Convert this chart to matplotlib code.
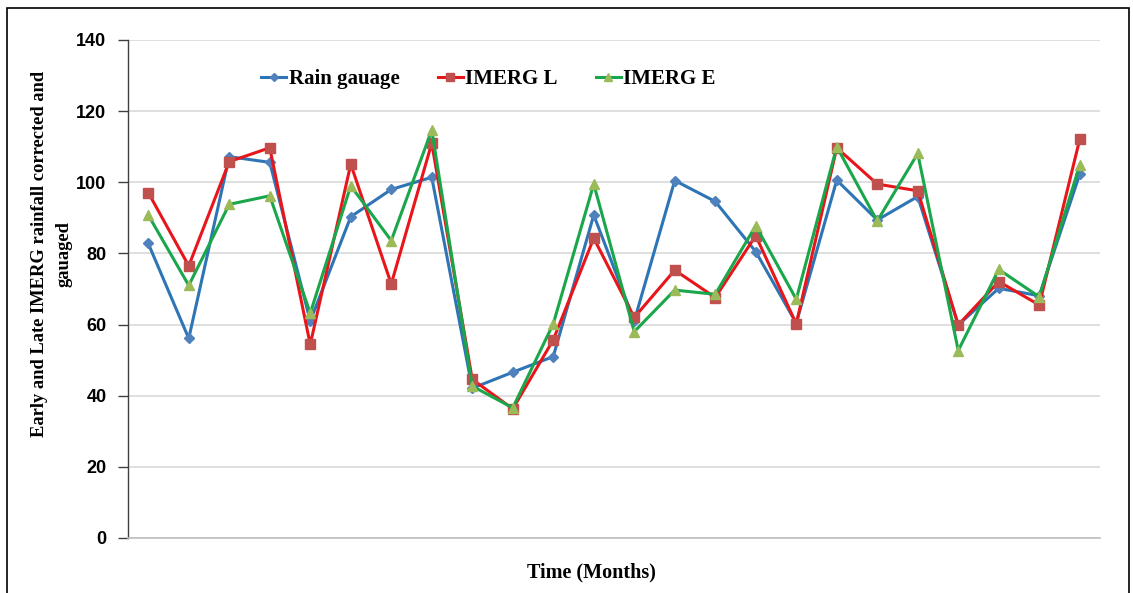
import numpy as np
import matplotlib.pyplot as plt
from matplotlib.patches import Rectangle

# values (24 months)
rain_gauge = [82.8, 56.1, 107.2, 105.6, 61.0, 90.3, 98.0, 101.4, 42.1, 46.6, 51.0, 90.8,
              61.0, 100.5, 94.6, 80.5, 60.4, 100.6, 89.4, 96.0, 59.9, 70.2, 68.1, 102.3]
imerg_l = [97.1, 76.5, 105.8, 109.7, 54.4, 105.1, 71.4, 111.0, 44.6, 36.3, 55.7, 84.3,
           62.0, 75.3, 67.6, 85.0, 60.2, 109.7, 99.5, 97.6, 59.9, 72.1, 65.5, 112.1]
imerg_e = [90.8, 71.0, 93.8, 96.2, 63.2, 99.0, 83.6, 114.7, 42.7, 36.6, 60.2, 99.5,
           58.0, 69.7, 68.5, 87.8, 67.1, 110.0, 89.1, 108.1, 52.7, 75.5, 67.8, 104.9]
yticks = [0, 20, 40, 60, 80, 100, 120, 140]

W, H = 1133, 593
fig = plt.figure(figsize=(W / 100, H / 100), dpi=100)
ax = fig.add_axes([128 / W, 55 / H, 972 / W, 498 / H])

x = np.arange(len(rain_gauge)) + 0.5
ax.plot(x, rain_gauge, color='#2E75B6', lw=2.2, marker='D', ms=5,
        mfc='#4F81BD', mec='#4F81BD', label='Rain gauage', zorder=3)
ax.plot(x, imerg_l, color='#E8161B', lw=2.2, marker='s', ms=7,
        mfc='#C0504D', mec='#C0504D', label='IMERG L', zorder=4)
ax.plot(x, imerg_e, color='#1AA64B', lw=2.2, marker='^', ms=7,
        mfc='#9BBB59', mec='#9BBB59', label='IMERG E', zorder=5)

ax.set_xlim(0, len(rain_gauge))
ax.set_ylim(0, 140)
ax.set_yticks(yticks)
ax.set_xticks([])
ax.grid(axis='y', color='#D9D9D9', lw=1.2, zorder=0)
ax.set_axisbelow(True)
for s in ['top', 'right']:
    ax.spines[s].set_visible(False)
ax.spines['bottom'].set_color('#BFBFBF')
ax.spines['bottom'].set_linewidth(1.2)
ax.spines['left'].set_color('#404040')
ax.spines['left'].set_linewidth(1.0)
ax.tick_params(axis='y', length=7, width=1, color='#404040', pad=8.5)
for lab in ax.get_yticklabels():
    lab.set_fontfamily('Liberation Sans')
    lab.set_fontweight('bold')
    lab.set_fontsize(13)

fig.text(591 / W, 1 - 572 / H, 'Time (Months)', family='Liberation Serif',
         weight='bold', fontsize=14.5, ha='center', va='center')
fig.text(52 / W, 1 - 254 / H, 'Early and Late IMERG rainfall corrected and\ngauaged',
         family='Liberation Serif', weight='bold', fontsize=13.3, rotation=90,
         ha='center', va='center', multialignment='center', linespacing=1.6)

ax.legend(loc='upper left', bbox_to_anchor=(0.118, 0.979), ncol=3, frameon=False,
          prop={'family': 'Liberation Serif', 'weight': 'bold', 'size': 15},
          handlelength=1.2, handletextpad=0.1, columnspacing=1.85, markerscale=0.8)

# outer frame around the figure
fig.patches.append(Rectangle((7 / W, -0.02), 1122 / W, (H - 8) / H + 0.02,
                             transform=fig.transFigure, fill=False,
                             edgecolor='black', lw=1.2))

fig.savefig('out.png', dpi=100)
